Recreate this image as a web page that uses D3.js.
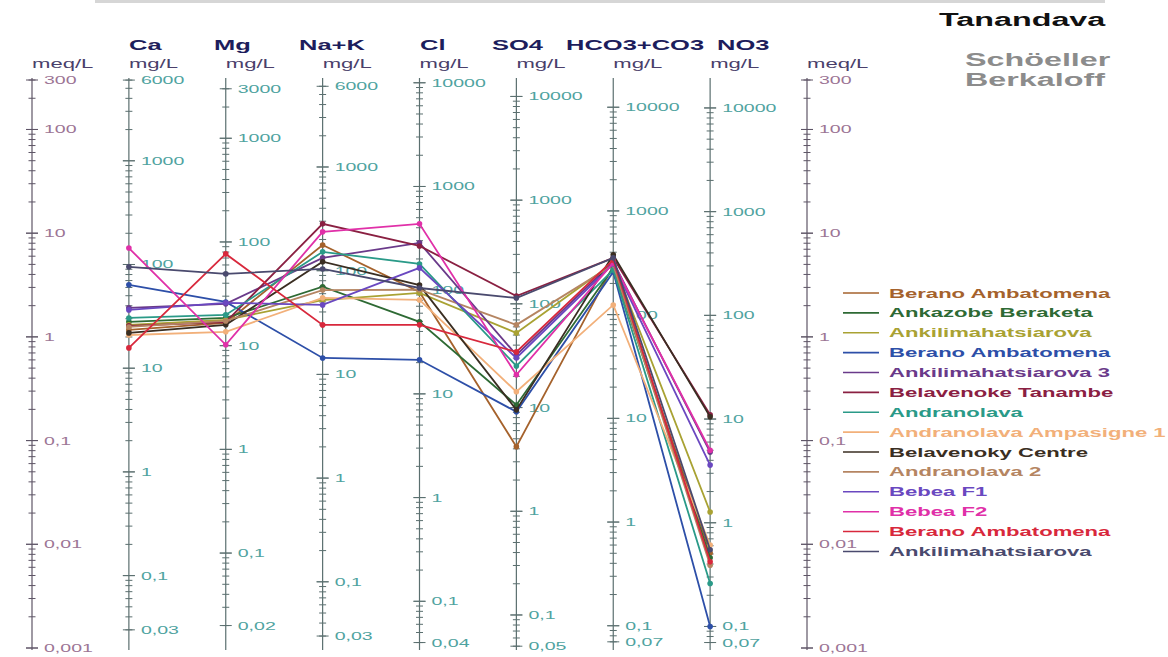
<!DOCTYPE html>
<html><head><meta charset="utf-8">
<script src="https://cdn.jsdelivr.net/npm/d3@7"></script>
<style>html,body{margin:0;padding:0;background:#fff;} svg{display:block}</style>
</head><body>
<svg id="c" width="1168" height="657"></svg>
<script>
// ---------- data ----------
const ions = ["Ca", "Mg", "Na+K", "Cl", "SO4", "HCO3+CO3", "NO3"];
const eqWeights = [20.04, 12.15, 23.0, 35.45, 48.03, 61.02, 62.0];
const meqDomain = [0.001, 300];
const meqTickLabels = [300, 100, 10, 1, 0.1, 0.01, 0.001];
const caTicks  = [6000, 1000, 100, 10, 1, 0.1, 0.03];
const mgTicks  = [3000, 1000, 100, 10, 1, 0.1, 0.02];
const nakTicks = [6000, 1000, 100, 10, 1, 0.1, 0.03];
const clTicks  = [10000, 1000, 100, 10, 1, 0.1, 0.04];
const so4Ticks = [10000, 1000, 100, 10, 1, 0.1, 0.05];
const hco3Ticks= [10000, 1000, 100, 10, 1, 0.1, 0.07];
const no3Ticks = [10000, 1000, 100, 10, 1, 0.1, 0.07];
const ionTickLabels = [caTicks, mgTicks, nakTicks, clTicks, so4Ticks, hco3Ticks, no3Ticks];

const seriesNames = ["Berano Ambatomena", "Ankazobe Beraketa", "Ankilimahatsiarova", "Berano Ambatomena",
  "Ankilimahatsiarova 3", "Belavenoke Tanambe", "Andranolava", "Andranolava Ampasigne 1",
  "Belavenoky Centre", "Andranolava 2", "Bebea F1", "Bebea F2", "Berano Ambatomena", "Ankilimahatsiarova"];
const seriesColors = ["#a5622c", "#2e6a34", "#a9a233", "#2d4fa8", "#6a3a8a", "#8a2042", "#2a9a88",
  "#f2b07a", "#3a2e22", "#b58562", "#6a48c0", "#e030a8", "#d8283c", "#4a4a6e"];

// values in mg/L: Ca, Mg, Na+K, Cl, SO4, HCO3+CO3, NO3
const beranoAmbatomena1   = [23.4, 16.6, 177, 96, 4.2, 295, 0.51];
const ankazobeBeraketa    = [28, 18.5, 70, 49.5, 10.6, 282, 0.46];
const ankilimahatsiarova1 = [26.2, 17.7, 52, 94, 52.5, 315, 1.27];
const beranoAmbatomena2   = [63.6, 26.4, 14.4, 21.3, 9.1, 258, 0.1];
const ankilimahatsiarova3 = [38.2, 25.3, 133, 286, 32.2, 323, 4.8];
const belavenokeTanambe   = [25.6, 16.9, 283, 267, 119, 353, 11];
const andranolava         = [30.5, 19.8, 152, 179, 25.2, 270, 0.26];
const andranolavaAmp1     = [20.9, 13.6, 54.7, 80.6, 14.2, 124, 0.61];
const belavenokyCentre    = [21.9, 15.9, 122, 112, 9.5, 377, 10.5];
const andranolava2        = [25, 17.3, 65, 101, 62.7, 302, 0.39];
const bebeaF1             = [36.5, 25.9, 46.8, 164, 30.1, 309, 3.6];
const bebeaF2             = [144, 10.2, 237, 436, 20.7, 315, 5.0];
const beranoAmbatomena3   = [15.7, 76.7, 30, 46.3, 34.4, 337, 0.42];
const ankilimahatsiarova2 = [94.9, 49.2, 104, 105, 114, 353, 0.55];
const seriesValues = [beranoAmbatomena1, ankazobeBeraketa, ankilimahatsiarova1, beranoAmbatomena2,
  ankilimahatsiarova3, belavenokeTanambe, andranolava, andranolavaAmp1, belavenokyCentre,
  andranolava2, bebeaF1, bebeaF2, beranoAmbatomena3, ankilimahatsiarova2];

// ---------- layout ----------
const SX = 1.7; // horizontal stretch of the text
const FONT = "'Liberation Sans', Arial, sans-serif";
const svg = d3.select("#c");
const cols = ["meqL", ...ions, "meqR"];
const x = d3.scalePoint().domain(cols).range([32, 807]);
const Y0 = 648, Y1 = 80;
const yMeq = d3.scaleLog().domain(meqDomain).range([Y0, Y1]);
const ionScales = eqWeights.map(w => d3.scaleLog().domain([meqDomain[0] * w, meqDomain[1] * w]).range([Y0, Y1]));

function stext(g, tx, ty, str) {
  return g.append("text").attr("transform", `translate(${tx},${ty}) scale(${SX},1)`).text(str);
}
const fmt = v => String(v).replace(".", ",");

// faint band at top
svg.append("rect").attr("x", 95).attr("y", 0).attr("width", 1010).attr("height", 3).attr("fill", "#d6d6d6");

// ---------- axes ----------
function drawAxis(cx, scale, labels, lineColor, labelColor) {
  const g = svg.append("g");
  const [d0, d1] = scale.domain();
  g.append("line").attr("x1", cx).attr("x2", cx).attr("y1", Y1 - 2).attr("y2", Y0 + 2)
    .attr("stroke", lineColor).attr("stroke-width", 1.2);
  const ticks = [];
  for (let k = Math.floor(Math.log10(d0)); k <= Math.ceil(Math.log10(d1)); k++) {
    for (let m = 1; m <= 9; m++) {
      const v = m * Math.pow(10, k);
      if (v >= d0 * 0.999 && v <= d1 * 1.001) ticks.push({ v, major: m === 1 });
    }
  }
  labels.forEach(v => ticks.push({ v, major: true }));
  ticks.forEach(t => {
    const len = t.major ? 6 : 3.5;
    g.append("line").attr("x1", cx - len).attr("x2", cx + len)
      .attr("y1", scale(t.v)).attr("y2", scale(t.v))
      .attr("stroke", lineColor).attr("stroke-width", 1);
  });
  labels.forEach(v => {
    stext(g, cx + 12, scale(v) + 4, fmt(v))
      .attr("font-family", FONT).attr("font-size", 11.5).attr("fill", labelColor);
  });
}

drawAxis(x("meqL"), yMeq, meqTickLabels, "#5e5566", "#9c7595");
drawAxis(x("meqR"), yMeq, meqTickLabels, "#5e5566", "#9c7595");
ions.forEach((ion, i) => drawAxis(x(ion), ionScales[i], ionTickLabels[i], "#5b6f6f", "#4fa3a0"));

// headers
const headerX = [129, 214, 299, 420, 492, 566, 717];
ions.forEach((ion, i) => {
  stext(svg, headerX[i], 50, ion).attr("font-family", FONT).attr("font-weight", "bold")
    .attr("font-size", 15).attr("fill", "#1d1d5c");
  stext(svg, x(ion), 68, "mg/L").attr("font-family", FONT).attr("font-size", 13)
    .attr("fill", "#4a3f6b");
});
["meqL", "meqR"].forEach(k => {
  stext(svg, x(k), 68, "meq/L").attr("font-family", FONT).attr("font-size", 13).attr("fill", "#4a3f6b");
});

// titles
stext(svg, 939, 26, "Tanandava").attr("font-family", FONT).attr("font-weight", "bold")
  .attr("font-size", 19).attr("fill", "#111");
stext(svg, 965, 66, "Schöeller").attr("font-family", FONT).attr("font-weight", "bold")
  .attr("font-size", 19).attr("fill", "#8c8c8c");
stext(svg, 965, 86, "Berkaloff").attr("font-family", FONT).attr("font-weight", "bold")
  .attr("font-size", 19).attr("fill", "#8c8c8c");

// ---------- series ----------
const line = d3.line().x(d => d.x).y(d => d.y);
seriesValues.forEach((vals, s) => {
  const pts = vals.map((v, i) => ({ x: x(ions[i]), y: ionScales[i](v) }));
  const g = svg.append("g");
  g.append("path").attr("d", line(pts)).attr("fill", "none")
    .attr("stroke", seriesColors[s]).attr("stroke-width", 1.8);
  g.selectAll("circle").data(pts).join("circle")
    .attr("cx", d => d.x).attr("cy", d => d.y).attr("r", 2.8).attr("fill", seriesColors[s]);
});

// ---------- legend ----------
const lg = svg.append("g");
seriesNames.forEach((name, i) => {
  const cy = 293 + i * 19.88;
  lg.append("line").attr("x1", 843).attr("x2", 879).attr("y1", cy).attr("y2", cy)
    .attr("stroke", seriesColors[i]).attr("stroke-width", 1.6);
  stext(lg, 889, cy + 4.5, name).attr("font-family", FONT).attr("font-weight", "bold")
    .attr("font-size", 13).attr("fill", seriesColors[i]);
});
</script>
</body></html>
